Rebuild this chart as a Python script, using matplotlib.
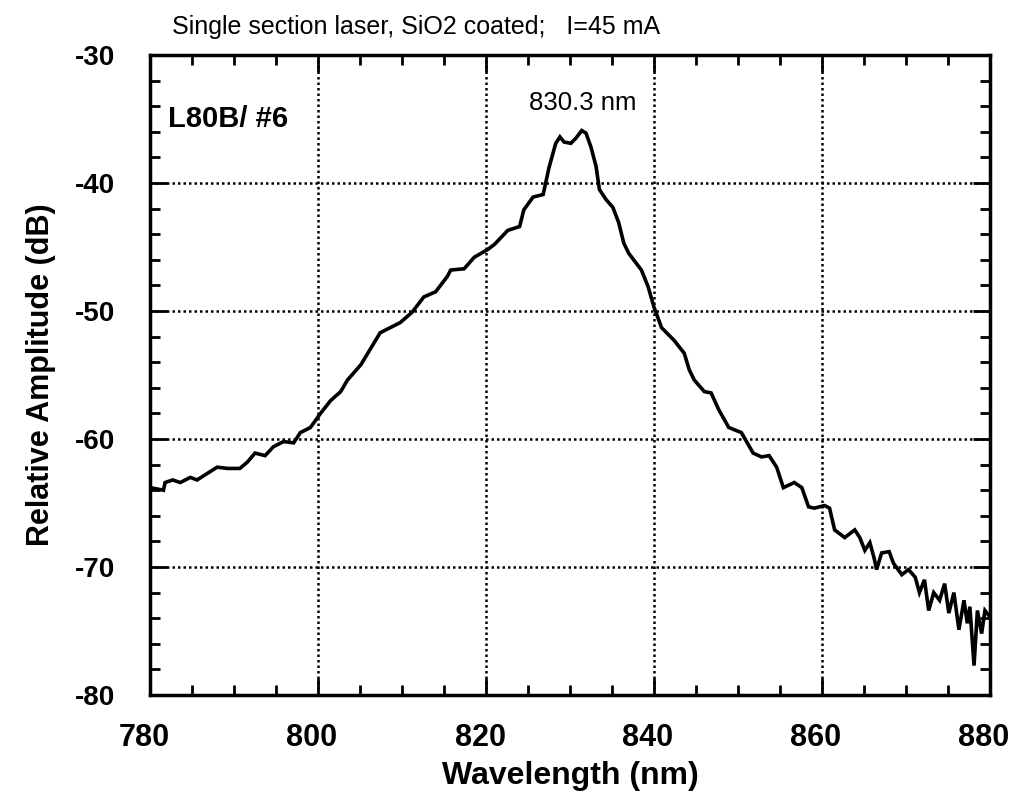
import matplotlib
matplotlib.use("Agg")
import matplotlib.pyplot as plt
import matplotlib.transforms as mtransforms
from matplotlib.ticker import MultipleLocator

plt.rcParams['font.family'] = ['Liberation Sans', 'DejaVu Sans']
plt.rcParams['axes.unicode_minus'] = False

wavelength_nm = [
    780.0, 781.6, 781.8, 782.7, 783.6, 784.8, 785.6, 786.8, 788.0, 789.2,
    790.7, 791.6, 792.5, 793.7, 794.7, 795.9, 797.1, 797.9, 799.1, 800.3,
    801.5, 802.7, 803.5, 805.1, 807.4, 809.8, 811.2, 812.6, 814.0, 815.4,
    815.8, 817.4, 818.6, 820.2, 821.0, 822.6, 824.0, 824.5, 825.6, 826.8,
    827.5, 828.3, 828.8, 829.3, 830.1, 830.7, 831.4, 831.9, 832.5, 833.1,
    833.5, 834.3, 835.1, 835.8, 836.4, 837.0, 838.5, 839.3, 840.0, 840.9,
    842.4, 843.6, 844.2, 844.8, 846.0, 846.8, 847.7, 848.9, 850.4, 851.8,
    852.8, 853.7, 854.6, 855.4, 856.7, 857.6, 858.4, 859.1, 860.3, 860.9,
    861.5, 862.7, 863.9, 864.5, 865.1, 865.7, 866.2, 866.5, 867.1, 868.0,
    868.5, 869.5, 870.3, 871.1, 871.6, 872.2, 872.7, 873.3, 874.0, 874.6,
    875.1, 875.7, 876.3, 876.9, 877.3, 877.6, 878.1, 878.5, 879.0, 879.4,
    880.0,
]
amplitude_db = [
    -63.8, -64.0, -63.4, -63.2, -63.4, -63.0, -63.2, -62.7, -62.2, -62.3,
    -62.3, -61.8, -61.1, -61.3, -60.6, -60.2, -60.3, -59.5, -59.1, -58.0,
    -57.0, -56.3, -55.4, -54.2, -51.7, -50.9, -50.1, -48.9, -48.5, -47.3,
    -46.8, -46.7, -45.8, -45.2, -44.8, -43.7, -43.4, -42.1, -41.1, -40.9,
    -38.8, -36.9, -36.4, -36.8, -36.9, -36.5, -35.9, -36.1, -37.2, -38.7,
    -40.5, -41.3, -41.9, -43.1, -44.7, -45.5, -46.8, -48.1, -49.7, -51.3,
    -52.3, -53.3, -54.6, -55.4, -56.3, -56.4, -57.7, -59.1, -59.5, -61.1,
    -61.4, -61.3, -62.2, -63.8, -63.4, -63.8, -65.3, -65.4, -65.2, -65.4,
    -67.1, -67.7, -67.1, -67.7, -68.7, -68.1, -69.3, -70.2, -68.9, -68.8,
    -69.7, -70.6, -70.2, -70.8, -72.0, -71.0, -73.4, -72.0, -72.6, -71.3,
    -73.6, -72.0, -74.9, -72.6, -74.4, -73.1, -77.7, -73.4, -75.2, -73.4,
    -73.9,
]

title_text = "Single section laser, SiO2 coated;   I=45 mA"
sample_label = "L80B/ #6"
peak_label = "830.3 nm"
x_label = "Wavelength (nm)"
y_label = "Relative Amplitude (dB)"
x_ticks = [780, 800, 820, 840, 860, 880]
y_ticks = [-80, -70, -60, -50, -40, -30]

fig = plt.figure(figsize=(10.10, 7.96), dpi=100)
ax = fig.add_axes([150/1010, 1-695/796, 840/1010, 640/796])

ax.plot(wavelength_nm, amplitude_db, color='black', lw=2.6,
        solid_joinstyle='miter')

ax.set_xlim(780, 880)
ax.set_ylim(-80, -30)
ax.set_xticks(x_ticks)
ax.set_yticks(y_ticks)
ax.xaxis.set_minor_locator(MultipleLocator(5))
ax.yaxis.set_minor_locator(MultipleLocator(2))
ax.tick_params(which='both', direction='in', top=True, right=True, width=2, color='black')
ax.tick_params(which='major', length=12)
ax.tick_params(which='minor', length=7)
ax.tick_params(axis='x', which='major', pad=20, labelsize=22)
ax.tick_params(axis='y', which='major', pad=25, labelsize=20)

shift = mtransforms.ScaledTranslation(-6/100, 0, fig.dpi_scale_trans)
for lbl in ax.get_xticklabels():
    lbl.set_fontweight('bold')
    lbl.set_transform(lbl.get_transform() + shift)
for lbl in ax.get_yticklabels():
    lbl.set_fontweight('bold')

for s in ax.spines.values():
    s.set_linewidth(2.5)

ax.grid(True, which='major', color='black', linestyle=(0, (1, 1.2)), linewidth=1.8)

ax.set_xlabel(x_label, fontsize=23, fontweight='bold', labelpad=6)
ax.set_ylabel(y_label, fontsize=22, fontweight='bold', labelpad=14)

fig.text(172/1010, 1-27/796, title_text, fontsize=18, ha='left', va='center')
ax.text(0.021, 0.9, sample_label, transform=ax.transAxes, fontsize=21,
        fontweight='bold', ha='left', va='center')
ax.text(831.5, -33.75, peak_label, fontsize=18.5, ha='center', va='center')

fig.savefig("out.png", dpi=100)
